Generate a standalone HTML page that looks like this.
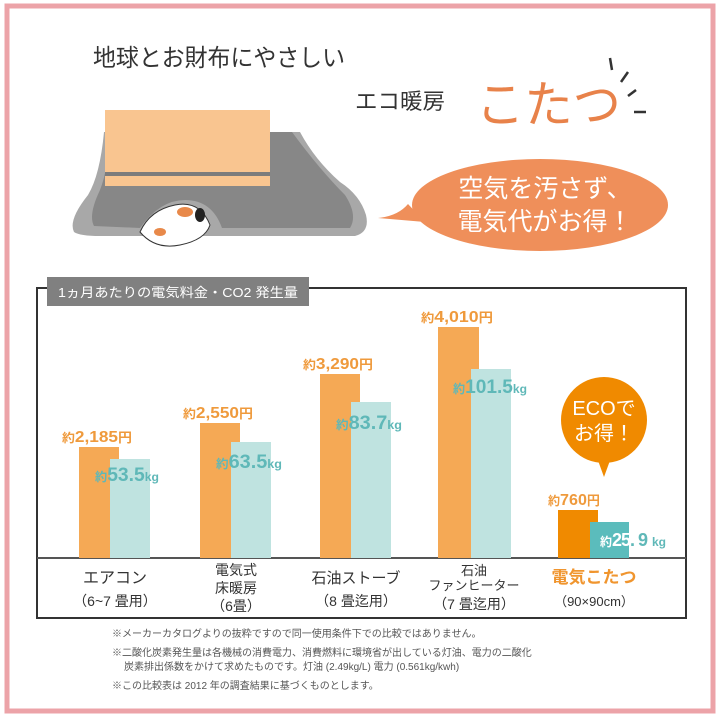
<!DOCTYPE html>
<html><head><meta charset="utf-8"><style>
body{margin:0;width:720px;height:720px;background:#fff;overflow:hidden;font-family:"Liberation Sans","Noto Sans CJK JP",sans-serif;}
svg text{font-family:"Liberation Sans","Noto Sans CJK JP",sans-serif;}
</style></head><body>
<svg width="720" height="720" viewBox="0 0 720 720">
<rect x="7" y="6" width="706" height="705" fill="none" stroke="#eca3a8" stroke-width="5"/>
<!-- header -->
<text x="93" y="66" font-size="24" fill="#333" textLength="252" lengthAdjust="spacingAndGlyphs">地球とお財布にやさしい</text>
<text x="355" y="109" font-size="22" fill="#333" textLength="90" lengthAdjust="spacingAndGlyphs">エコ暖房</text>
<text x="476" y="122" font-size="50" fill="#e8824a" textLength="145" lengthAdjust="spacingAndGlyphs" font-family="Noto Serif CJK SC, serif">こたつ</text>
<g stroke="#333" stroke-width="2.5"><line x1="610" y1="58" x2="612" y2="70"/><line x1="628" y1="72" x2="621" y2="82"/><line x1="636" y1="90" x2="628" y2="96"/><line x1="634" y1="112" x2="646" y2="112"/></g>
<!-- kotatsu -->
<path d="M104 132 Q100 175 88 195 Q68 220 74 232 Q80 236 100 236 L355 236 Q370 232 366 215 Q360 195 340 182 Q315 160 300 132 Z" fill="#a8a8a8"/>
<path d="M110 132 Q108 170 100 190 Q88 215 94 226 L140 228 Q160 200 185 200 Q212 200 222 228 L350 228 Q358 215 345 195 Q320 170 292 132 Z" fill="#878787"/>
<rect x="105" y="110" width="165" height="62" fill="#f9c590"/>
<rect x="105" y="172" width="165" height="4" fill="#7c7c7c"/>
<rect x="105" y="176" width="165" height="10" fill="#f9c590"/>
<path d="M140 232 Q150 210 175 205 Q200 200 210 225 Q205 240 180 245 Q155 250 140 232 Z" fill="#fff" stroke="#333"/>
<ellipse cx="185" cy="212" rx="8" ry="5" fill="#e8894a"/>
<ellipse cx="160" cy="232" rx="6" ry="4" fill="#e8894a"/>
<ellipse cx="200" cy="215" rx="5" ry="7" fill="#222"/>
<!-- speech bubble -->
<path d="M378 218 Q398 216 408 204 L425 222 Z" fill="#ef8f5a"/>
<ellipse cx="540" cy="205" rx="128" ry="46" fill="#ef8f5a"/>
<text x="545" y="197" font-size="25" fill="#fff" text-anchor="middle">空気を汚さず、</text>
<text x="545" y="230" font-size="25" fill="#fff" text-anchor="middle">電気代がお得！</text>
<!-- chart frame -->
<rect x="37" y="288" width="649" height="330" fill="none" stroke="#333" stroke-width="2"/>
<rect x="47" y="277" width="262" height="29" fill="#808080"/>
<text x="58" y="297" font-size="13" fill="#fff" textLength="240" lengthAdjust="spacingAndGlyphs">1ヵ月あたりの電気料金・CO2 発生量</text>
<line x1="37" y1="558" x2="686" y2="558" stroke="#555" stroke-width="2"/>
<!-- bars -->
<g fill="#f5a955">
<rect x="79" y="447" width="40" height="111"/><rect x="200" y="423" width="40" height="135"/>
<rect x="320" y="374" width="40" height="184"/><rect x="438" y="327" width="41" height="231"/></g>
<rect x="558" y="510" width="40" height="48" fill="#f08a00"/>
<g fill="#bfe3e0">
<rect x="110" y="459" width="40" height="99"/><rect x="231" y="442" width="40" height="116"/>
<rect x="351" y="402" width="40" height="156"/><rect x="471" y="369" width="40" height="189"/></g>
<rect x="590" y="522" width="39" height="36" fill="#5bbcbc"/>
<g fill="#ef9a3c" font-weight="bold">
<text x="62" y="442" font-size="16" textLength="70" lengthAdjust="spacingAndGlyphs"><tspan font-size="12">約</tspan>2,185<tspan font-size="13">円</tspan></text>
<text x="183" y="418" font-size="16" textLength="70" lengthAdjust="spacingAndGlyphs"><tspan font-size="12">約</tspan>2,550<tspan font-size="13">円</tspan></text>
<text x="303" y="369" font-size="16" textLength="70" lengthAdjust="spacingAndGlyphs"><tspan font-size="12">約</tspan>3,290<tspan font-size="13">円</tspan></text>
<text x="421" y="322" font-size="16" textLength="72" lengthAdjust="spacingAndGlyphs"><tspan font-size="12">約</tspan>4,010<tspan font-size="13">円</tspan></text>
<text x="548" y="505" font-size="16" textLength="52" lengthAdjust="spacingAndGlyphs"><tspan font-size="12">約</tspan>760<tspan font-size="13">円</tspan></text></g>
<g fill="#5fb8b8" font-weight="bold">
<text x="95" y="481" font-size="19" textLength="64" lengthAdjust="spacingAndGlyphs"><tspan font-size="12">約</tspan>53.5<tspan font-size="12">kg</tspan></text>
<text x="216" y="468" font-size="19" textLength="66" lengthAdjust="spacingAndGlyphs"><tspan font-size="12">約</tspan>63.5<tspan font-size="12">kg</tspan></text>
<text x="336" y="429" font-size="19" textLength="66" lengthAdjust="spacingAndGlyphs"><tspan font-size="12">約</tspan>83.7<tspan font-size="12">kg</tspan></text>
<text x="453" y="393" font-size="19" textLength="74" lengthAdjust="spacingAndGlyphs"><tspan font-size="12">約</tspan>101.5<tspan font-size="12">kg</tspan></text>
<text x="600" y="546" font-size="12" fill="#fff">約</text>
<text x="612" y="546" font-size="18" fill="#fff" letter-spacing="-1">25</text>
<text x="630" y="546" font-size="18" letter-spacing="-1">. 9</text>
<text x="652" y="546" font-size="12">kg</text></g>
<!-- ECO bubble -->
<circle cx="604" cy="420" r="43" fill="#f08a00"/>
<path d="M596 455 L604 477 L612 455 Z" fill="#f08a00"/>
<text x="604" y="415" font-size="20" fill="#fff" text-anchor="middle">ECOで</text>
<text x="604" y="440" font-size="20" fill="#fff" text-anchor="middle">お得！</text>
<!-- category labels -->
<g fill="#333" text-anchor="middle">
<text x="115" y="583" font-size="16">エアコン</text><text x="115" y="606" font-size="14">（6~7 畳用）</text>
<text x="236" y="575" font-size="14">電気式</text><text x="236" y="593" font-size="14">床暖房</text><text x="236" y="611" font-size="14">（6畳）</text>
<text x="356" y="583" font-size="15">石油ストーブ</text><text x="356" y="606" font-size="14">（8 畳迄用）</text>
<text x="474" y="575" font-size="13">石油</text><text x="474" y="590" font-size="13">ファンヒーター</text><text x="474" y="609" font-size="14">（7 畳迄用）</text>
<text x="594" y="583" font-size="17" fill="#f0952e" font-weight="bold">電気こたつ</text><text x="594" y="606" font-size="13">（90×90cm）</text></g>
<!-- notes -->
<g fill="#555" font-size="10">
<text x="112" y="637">※メーカーカタログよりの抜粋ですので同一使用条件下での比較ではありません。</text>
<text x="112" y="656">※二酸化炭素発生量は各機械の消費電力、消費燃料に環境省が出している灯油、電力の二酸化</text>
<text x="124" y="670">炭素排出係数をかけて求めたものです。灯油 (2.49kg/L) 電力 (0.561kg/kwh)</text>
<text x="112" y="689">※この比較表は 2012 年の調査結果に基づくものとします。</text></g>
</svg>
</body></html>
